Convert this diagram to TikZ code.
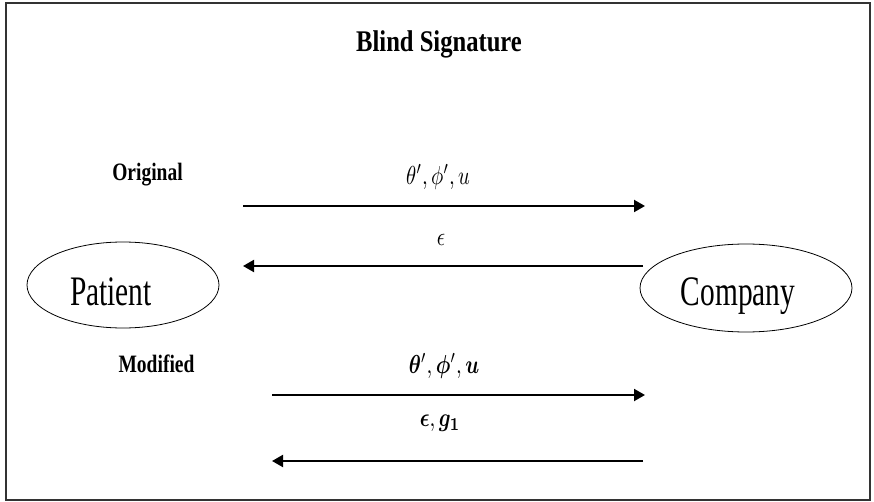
\documentclass[tikz,border=0pt]{standalone}
\usepackage{fontspec}
\usepackage{amsmath}
\usepackage{bm}
\usepackage{graphicx}
\setmainfont{Liberation Serif}
\usetikzlibrary{shapes.geometric,arrows.meta}
\newcommand{\biglabel}[1]{\scalebox{2.05}[2.6]{$#1$}}
\begin{document}
\begin{tikzpicture}[x=1pt,y=-1pt,
  frame/.style={draw=black!80,line width=1.8pt},
  party/.style={draw,ellipse,line width=0.8pt,inner sep=0pt},
  msg/.style={line width=2pt,-{Triangle[length=11pt,width=12pt]}},
  heading/.style={font=\bfseries\fontsize{30}{30}\selectfont,xscale=0.82},
  rowlabel/.style={font=\bfseries\fontsize{25}{25}\selectfont,xscale=0.78},
  partytext/.style={font=\fontsize{42}{42}\selectfont,xscale=0.7,anchor=base,inner sep=0pt},
  mathlabel/.style={inner sep=0pt}]
\useasboundingbox (0,0) rectangle (874,502);
\draw[frame] (6,3) rectangle (870,500);
\node[heading] (title) at (439,44) {Blind Signature};
\node[rowlabel] (orig) at (147.5,175) {Original};
\node[rowlabel] (modi) at (156.5,364) {Modified};
% parties
\node[party,minimum width=192pt,minimum height=86pt] (patient) at (123,285) {};
\node[partytext] (ptext) at (111,305) {Patient};
\node[party,minimum width=212pt,minimum height=88pt] (company) at (746,288) {};
\node[partytext] (ctext) at (738,305) {Company};
% arrow endpoints
\coordinate (a1s) at (243,206); \coordinate (a1e) at (645,206);
\coordinate (a2s) at (643,266); \coordinate (a2e) at (243,266);
\coordinate (a3s) at (272,395); \coordinate (a3e) at (645,395);
\coordinate (a4s) at (643,461); \coordinate (a4e) at (272,461);
\draw[msg] (a1s) -- (a1e);
\draw[msg] (a2s) -- (a2e);
\draw[msg] (a3s) -- (a3e);
\draw[msg] (a4s) -- (a4e);
% labels
\node[mathlabel] (l1) at (438,177) {\biglabel{\theta',\phi',u}};
\node[mathlabel] (l2) at (441,240) {\biglabel{\epsilon}};
\node[mathlabel] (l3) at (444,366) {\biglabel{\bm{\theta}',\bm{\phi}',\bm{u}}};
\node[mathlabel] (l4) at (440,423) {\biglabel{\bm{\epsilon},\bm{g}_{\bm{1}}}};
\end{tikzpicture}
\end{document}
